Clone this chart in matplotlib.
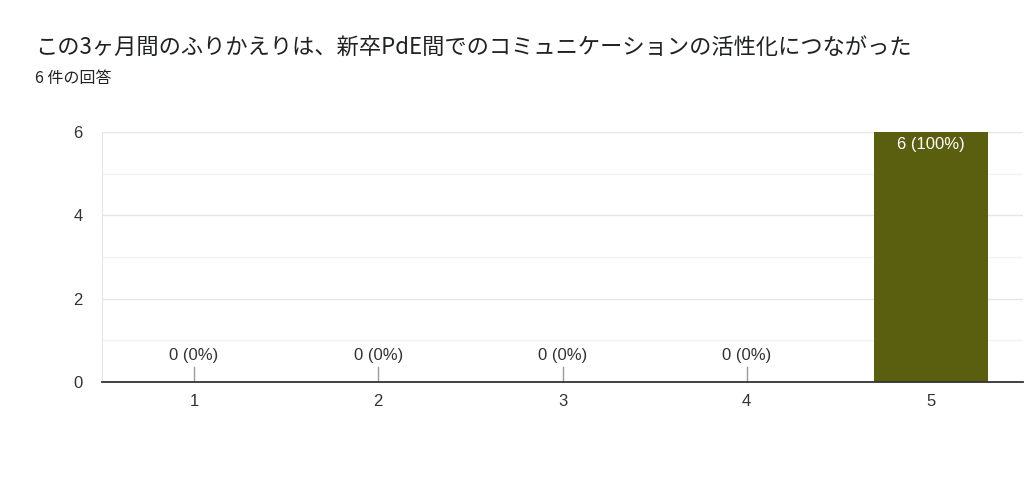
import matplotlib
matplotlib.use("Agg")
import matplotlib.pyplot as plt

plt.rcParams['font.family'] = ['Noto Sans CJK JP', 'DejaVu Sans']

title = "この3ヶ月間のふりかえりは、新卒PdE間でのコミュニケーションの活性化につながった"
subtitle = "6 件の回答"
categories = ["1", "2", "3", "4", "5"]
counts = [0, 0, 0, 0, 6]
total = 6

bar_color = "#5a5f10"
text_color = "#333333"

fig = plt.figure(figsize=(10.24, 4.87), dpi=100)
ax = fig.add_axes([102 / 1024, 1 - 382 / 487, 921 / 1024, 250 / 487])

x = list(range(len(categories)))
ax.bar(x, counts, width=0.615, color=bar_color, zorder=3)

ax.set_xlim(-0.5, len(categories) - 0.5)
ax.set_ylim(0, 6)
ax.set_yticks([0, 2, 4, 6])
ax.set_yticks([1, 3, 5], minor=True)
ax.set_xticks(x)
ax.set_xticklabels(categories)
ax.grid(axis='y', which='major', color="#e6e6e6", linewidth=1, zorder=0)
ax.grid(axis='y', which='minor', color="#f3f3f3", linewidth=1, zorder=0)
ax.tick_params(axis='both', which='both', length=0, labelsize=12,
               labelcolor="#333333", labelfontfamily="Liberation Sans")
ax.tick_params(axis='x', pad=9)
ax.tick_params(axis='y', pad=14)

for side in ['top', 'right']:
    ax.spines[side].set_visible(False)
ax.spines['left'].set_color("#e6e6e6")
ax.spines['bottom'].set_color("#333333")
ax.spines['bottom'].set_linewidth(1.3)
ax.spines['bottom'].set_zorder(4)

for xi, c in zip(x, counts):
    label = f"{c} ({round(100 * c / total)}%)"
    if c == 0:
        ax.plot([xi, xi], [0, 0.36], color="#999999", linewidth=1, zorder=3)
        ax.text(xi, 0.45, label, ha='center', va='bottom', fontsize=12,
                color=text_color, family="Liberation Sans")
    else:
        ax.text(xi, c - 0.12, label, ha='center', va='top', fontsize=12,
                color="white", family="Liberation Sans", zorder=5)

fig.text(35 / 1024, 1 - 48 / 487, title, ha='left', va='center',
         fontsize=16, color="#202124")
fig.text(35 / 1024, 1 - 79 / 487, subtitle, ha='left', va='center',
         fontsize=11.5, color="#202124")

fig.savefig("out.png", dpi=100)
